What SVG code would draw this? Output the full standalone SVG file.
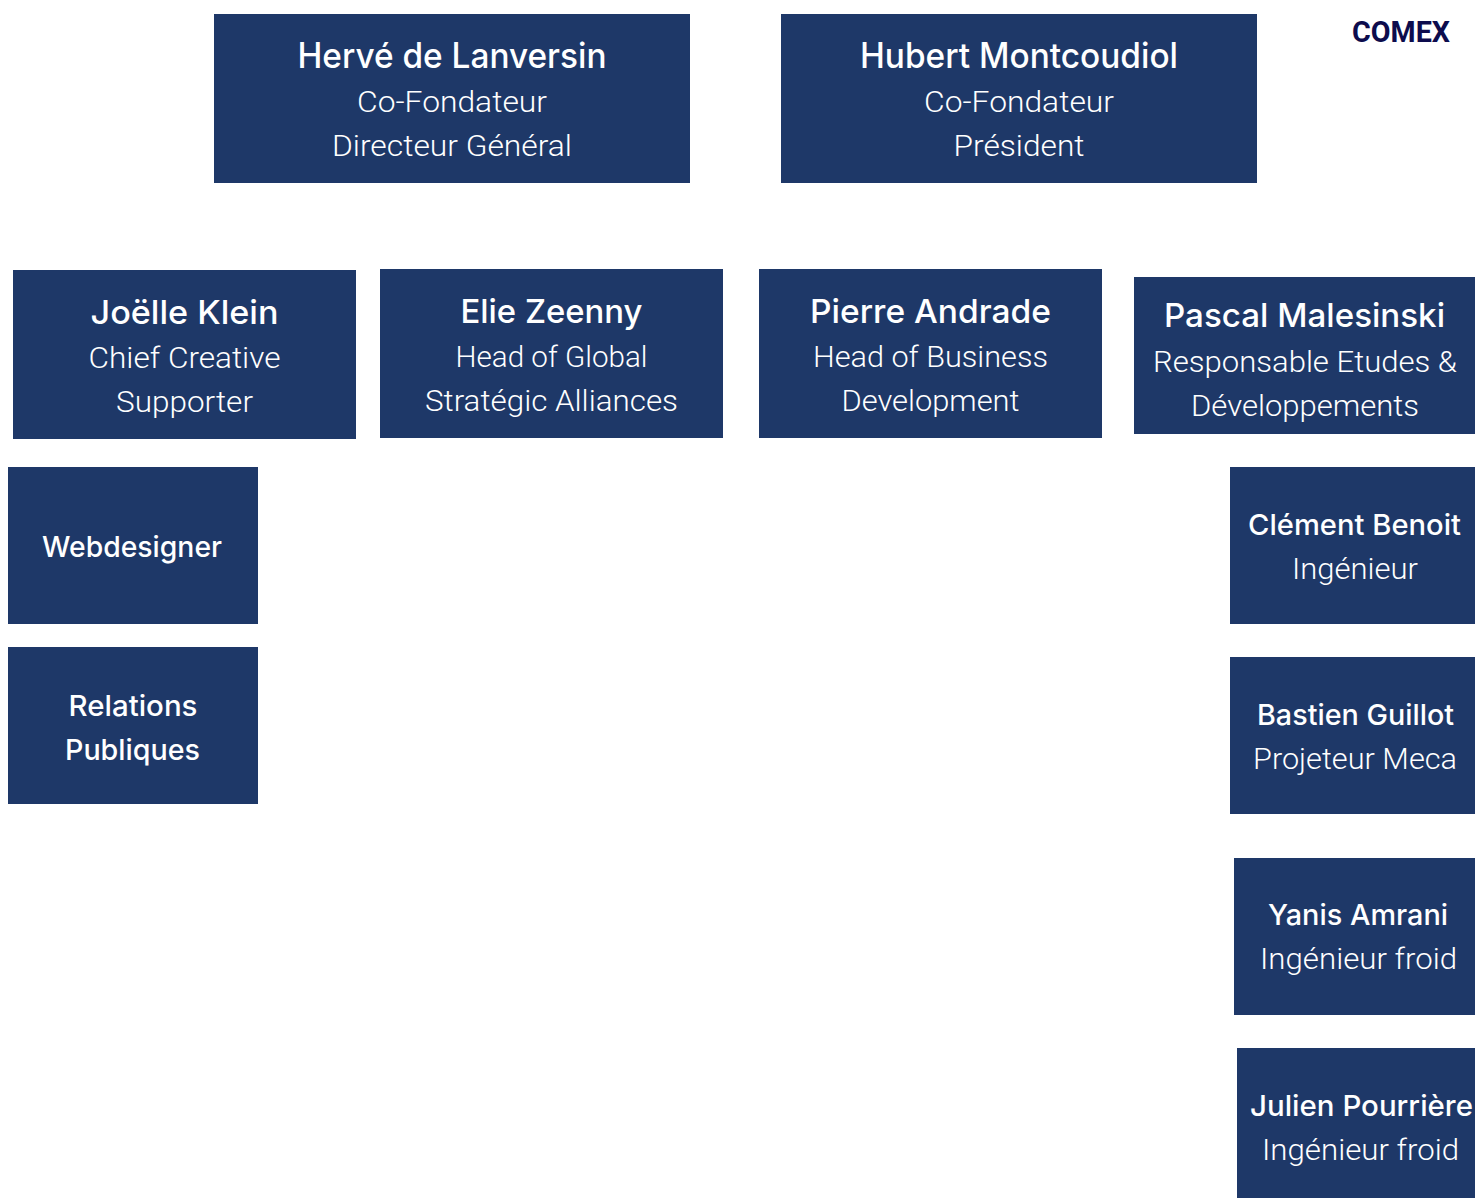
<svg xmlns="http://www.w3.org/2000/svg" width="1475" height="1198" viewBox="0 0 1475 1198">
<style>
.box{fill:#1e3868}
text{font-family:Roboto,"Liberation Sans",sans-serif;fill:#ffffff;text-anchor:middle}
.n1,.n2,.n3{font-family:Inter,Roboto,"Liberation Sans",sans-serif;font-weight:500}
.n1{font-size:35px}
.n2{font-size:33px}
.n3{font-size:29px}
.s{font-size:29px;font-weight:300}
.comex{font-size:30px;font-weight:700;fill:#0d0c4d}
</style>
<rect width="1475" height="1198" fill="#ffffff"/>
<g id="connectors"></g>
<g id="comex"><text class="comex" x="1401" y="42" textLength="98" lengthAdjust="spacingAndGlyphs">COMEX</text></g>
<g id="herve">
<rect class="box" x="214" y="14" width="476" height="169"/>
<text class="n1" x="452" y="68" textLength="309" lengthAdjust="spacingAndGlyphs">Hervé de Lanversin</text>
<text class="s" x="452" y="112" textLength="190" lengthAdjust="spacingAndGlyphs">Co-Fondateur</text>
<text class="s" x="452" y="156" textLength="240" lengthAdjust="spacingAndGlyphs">Directeur Général</text>
</g>
<g id="hubert">
<rect class="box" x="781" y="14" width="476" height="169"/>
<text class="n1" x="1019" y="68" textLength="318" lengthAdjust="spacingAndGlyphs">Hubert Montcoudiol</text>
<text class="s" x="1019" y="112" textLength="190" lengthAdjust="spacingAndGlyphs">Co-Fondateur</text>
<text class="s" x="1019" y="156" textLength="131" lengthAdjust="spacingAndGlyphs">Président</text>
</g>
<g id="joelle">
<rect class="box" x="13" y="270" width="343" height="169"/>
<text class="n2" x="184.5" y="324" textLength="188" lengthAdjust="spacingAndGlyphs">Joëlle Klein</text>
<text class="s" x="184.5" y="368" textLength="192" lengthAdjust="spacingAndGlyphs">Chief Creative</text>
<text class="s" x="184.5" y="412" textLength="137" lengthAdjust="spacingAndGlyphs">Supporter</text>
</g>
<g id="elie">
<rect class="box" x="380" y="269" width="343" height="169"/>
<text class="n2" x="551.5" y="323" textLength="182" lengthAdjust="spacingAndGlyphs">Elie Zeenny</text>
<text class="s" x="551.5" y="367" textLength="192" lengthAdjust="spacingAndGlyphs">Head of Global</text>
<text class="s" x="551.5" y="411" textLength="253" lengthAdjust="spacingAndGlyphs">Stratégic Alliances</text>
</g>
<g id="pierre">
<rect class="box" x="759" y="269" width="343" height="169"/>
<text class="n2" x="930.5" y="323" textLength="241" lengthAdjust="spacingAndGlyphs">Pierre Andrade</text>
<text class="s" x="930.5" y="367" textLength="235" lengthAdjust="spacingAndGlyphs">Head of Business</text>
<text class="s" x="930.5" y="411" textLength="178" lengthAdjust="spacingAndGlyphs">Development</text>
</g>
<g id="pascal">
<rect class="box" x="1134" y="277" width="341" height="157"/>
<text class="n2" x="1304.5" y="327" textLength="281" lengthAdjust="spacingAndGlyphs">Pascal Malesinski</text>
<text class="s" x="1305" y="372" textLength="304" lengthAdjust="spacingAndGlyphs">Responsable Etudes &amp;</text>
<text class="s" x="1305" y="416" textLength="228" lengthAdjust="spacingAndGlyphs">Développements</text>
</g>
<g id="webdesigner">
<rect class="box" x="8" y="467" width="250" height="157"/>
<text class="n3" x="132" y="557" textLength="180" lengthAdjust="spacingAndGlyphs">Webdesigner</text>
</g>
<g id="relations">
<rect class="box" x="8" y="647" width="250" height="157"/>
<text class="n3" x="133" y="716" textLength="129" lengthAdjust="spacingAndGlyphs">Relations</text>
<text class="n3" x="132.5" y="760" textLength="135" lengthAdjust="spacingAndGlyphs">Publiques</text>
</g>
<g id="clement">
<rect class="box" x="1230" y="467" width="245" height="157"/>
<text class="n3" x="1354.5" y="535" textLength="213" lengthAdjust="spacingAndGlyphs">Clément Benoit</text>
<text class="s" x="1355" y="579" textLength="126" lengthAdjust="spacingAndGlyphs">Ingénieur</text>
</g>
<g id="bastien">
<rect class="box" x="1230" y="657" width="245" height="157"/>
<text class="n3" x="1355.5" y="725" textLength="197" lengthAdjust="spacingAndGlyphs">Bastien Guillot</text>
<text class="s" x="1355" y="769" textLength="204" lengthAdjust="spacingAndGlyphs">Projeteur Meca</text>
</g>
<g id="yanis">
<rect class="box" x="1234" y="858" width="241" height="157"/>
<text class="n3" x="1358" y="925" textLength="180" lengthAdjust="spacingAndGlyphs">Yanis Amrani</text>
<text class="s" x="1358.5" y="969" textLength="197" lengthAdjust="spacingAndGlyphs">Ingénieur froid</text>
</g>
<g id="julien">
<rect class="box" x="1237" y="1048" width="238" height="150"/>
<text class="n3" x="1361.5" y="1116" textLength="223" lengthAdjust="spacingAndGlyphs">Julien Pourrière</text>
<text class="s" x="1360.5" y="1160" textLength="197" lengthAdjust="spacingAndGlyphs">Ingénieur froid</text>
</g>
</svg>
